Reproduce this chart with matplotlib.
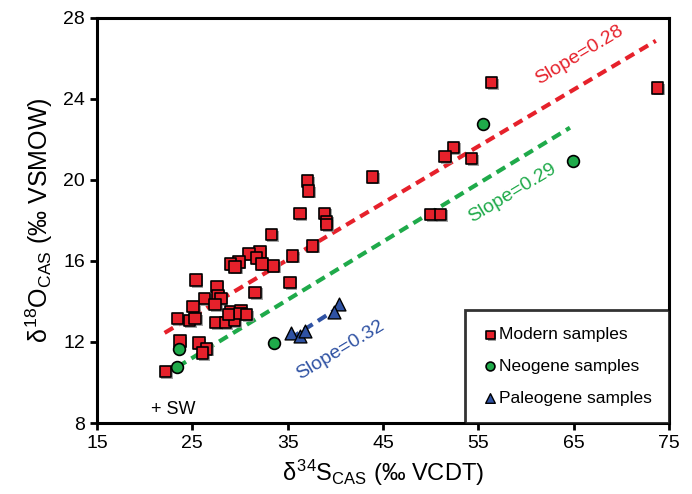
import matplotlib
matplotlib.use("Agg")
import matplotlib.pyplot as plt
import matplotlib.patheffects as pe
import numpy as np

plt.rcParams["font.family"] = ["Liberation Sans", "DejaVu Sans"]
plt.rcParams["mathtext.fontset"] = "custom"
plt.rcParams["mathtext.rm"] = "Liberation Sans"
plt.rcParams["mathtext.it"] = "Liberation Sans"

# modern samples (d34S, d18O)
modern_s = [37.1, 37.2, 36.3, 38.85, 39.1, 39.1, 33.3, 37.6, 32.1, 30.95, 31.75, 29.9,
            29.0, 29.5, 32.3, 33.5, 35.5, 25.4, 27.6, 35.25, 31.6, 27.7, 26.3, 28.0,
            25.1, 27.4, 23.45, 24.7, 25.3, 27.5, 28.5, 29.4, 29.0, 30.1, 30.0, 30.7,
            28.8, 23.7, 25.7, 26.5, 26.1, 22.2,
            56.4, 73.8, 43.9, 52.4, 51.5, 54.3, 50.0, 51.0]
modern_o = [19.95, 19.45, 18.35, 18.35, 17.95, 17.8, 17.3, 16.75, 16.45, 16.35, 16.15, 15.95,
            15.85, 15.7, 15.85, 15.75, 16.25, 15.05, 14.75, 14.95, 14.45, 14.3, 14.15, 14.15,
            13.75, 13.85, 13.15, 13.05, 13.15, 12.95, 12.95, 13.05, 13.5, 13.55, 13.4, 13.35,
            13.35, 12.05, 11.95, 11.65, 11.45, 10.55,
            24.8, 24.55, 20.15, 21.6, 21.15, 21.05, 18.3, 18.3]

neogene_s = [23.6, 23.45, 33.6, 55.5, 64.9]
neogene_o = [11.65, 10.75, 11.95, 22.75, 20.95]

paleogene_s = [40.35, 39.9, 35.4, 36.3, 36.8]
paleogene_o = [13.9, 13.5, 12.45, 12.3, 12.55]

# regression lines: (x start, x end, slope, value at x start)
red_fit = (22.1, 73.6, 0.28, 12.45)
green_fit = (23.45, 64.6, 0.287, 10.77)
blue_fit = (35.3, 40.3, 0.30, 12.18)

RED = "#e6212b"
GREEN = "#1faa4a"
BLUE = "#2f52a3"

fig = plt.figure(figsize=(6.92, 4.94), dpi=100)
ax = fig.add_axes([0.140, 0.1437, 0.827, 0.82])

shadow = [pe.SimplePatchShadow(offset=(1.2, -1.2), shadow_rgbFace="0.55", alpha=0.8), pe.Normal()]

for (x0, x1, k, y0), col in [(red_fit, RED), (green_fit, GREEN), (blue_fit, BLUE)]:
    xs = np.array([x0, x1])
    ax.plot(xs, y0 + k * (xs - x0), color=col, lw=3, ls=(0, (2.4, 1.5)), zorder=2)

ax.scatter(modern_s, modern_o, marker="s", s=68, c=RED, edgecolors="black",
           linewidths=1.2, zorder=3, path_effects=shadow, label="Modern samples")
ax.scatter(neogene_s, neogene_o, marker="o", s=72, c=GREEN, edgecolors="black",
           linewidths=1.2, zorder=3, label="Neogene samples")
ax.scatter(paleogene_s, paleogene_o, marker="^", s=85, c=BLUE, edgecolors="black",
           linewidths=1.0, zorder=3, label="Paleogene samples")

ax.text(65.6, 26.15, "Slope=0.28", color=RED, fontsize=14, rotation=31,
        ha="center", va="center")
ax.text(58.6, 19.35, "Slope=0.29", color=GREEN, fontsize=14, rotation=31,
        ha="center", va="center")
ax.text(40.5, 11.6, "Slope=0.32", color=BLUE, fontsize=14, rotation=31,
        ha="center", va="center")
ax.text(23.0, 8.65, "+ SW", color="black", fontsize=13, ha="center", va="center")

ax.set_xlim(15, 75)
ax.set_ylim(8, 28)
ax.set_xticks([15, 25, 35, 45, 55, 65, 75])
ax.set_yticks([8, 12, 16, 20, 24, 28])
ax.tick_params(direction="out", length=5, width=2, labelsize=14, top=False, right=False)
for sp in ax.spines.values():
    sp.set_linewidth(2.2)

ax.set_xlabel(r"$\delta^{34}$S$_{\rm CAS}$ (‰ VCDT)", fontsize=17, labelpad=4)
ax.set_ylabel(r"$\delta^{18}$O$_{\rm CAS}$ (‰ VSMOW)", fontsize=18, labelpad=6)

leg = ax.legend(loc="lower right", borderaxespad=0, fontsize=12.5, frameon=True,
                fancybox=False, edgecolor="black", handletextpad=0.05,
                handlelength=0.9, labelspacing=0.95, borderpad=1.0, markerscale=0.75)
leg.get_frame().set_linewidth(2)

fig.savefig("out.png", dpi=100)
